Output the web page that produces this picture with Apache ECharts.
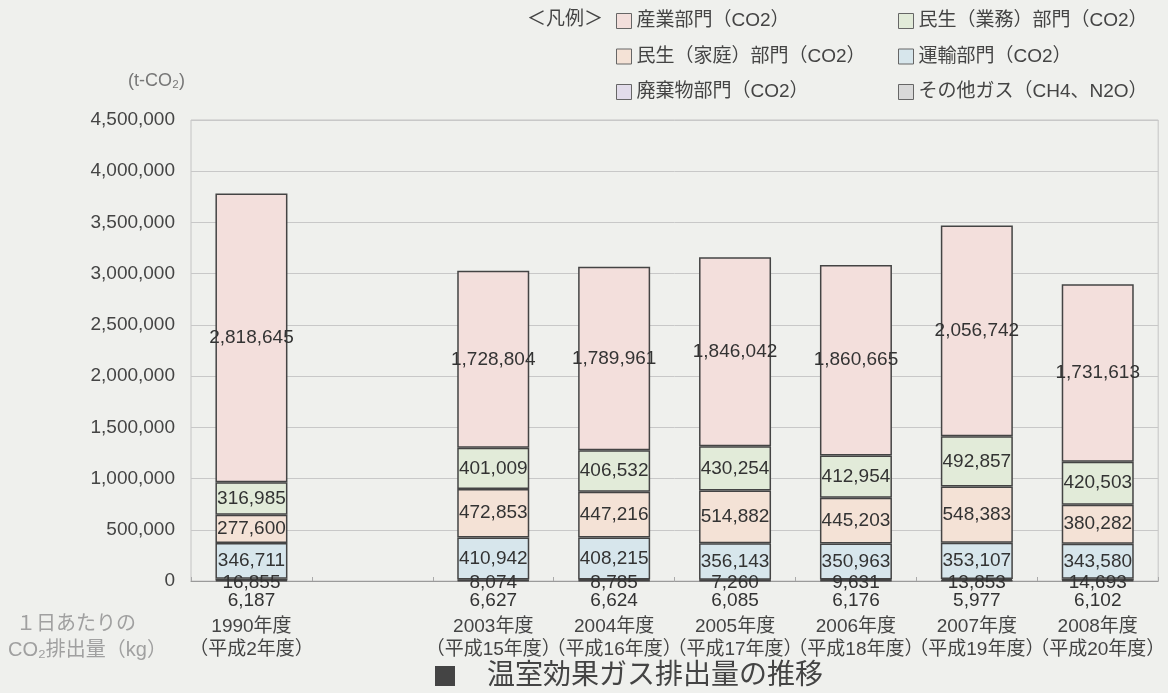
<!DOCTYPE html>
<html>
<head>
<meta charset="utf-8">
<script src="https://cdn.jsdelivr.net/npm/echarts@6/dist/echarts.min.js"></script>
<style>
html,body{margin:0;padding:0;background:#eff0ed;}
#main{width:1168px;height:693px;}
</style>
</head>
<body>
<div id="main"></div>
<script>
var years = ['1990年度', '', '2003年度', '2004年度', '2005年度', '2006年度', '2007年度', '2008年度']
var heisei = ['（平成2年度）', '', '（平成15年度）', '（平成16年度）', '（平成17年度）', '（平成18年度）', '（平成19年度）', '（平成20年度）']

var industry = [2818645, null, 1728804, 1789961, 1846042, 1860665, 2056742, 1731613]
var business = [316985, null, 401009, 406532, 430254, 412954, 492857, 420503]
var household = [277600, null, 472853, 447216, 514882, 445203, 548383, 380282]
var transport = [346711, null, 410942, 408215, 356143, 350963, 353107, 343580]
var waste = [16855, null, 8074, 8785, 7260, 9631, 13853, 14693]
var otherGas = [6187, null, 6627, 6624, 6085, 6176, 5977, 6102]
var totals = [3782982, null, 3028310, 3067333, 3160666, 3085590, 3470918, 2896772]

var yTicks = [0, 500000, 1000000, 1500000, 2000000, 2500000, 3000000, 3500000, 4000000, 4500000]

var FONT = '"Liberation Sans", "Noto Sans CJK JP", sans-serif'

function fmt(v) {
	return Number(v).toLocaleString('en-US')
}

function seg(name, data, color, label) {
	return {
		name: name,
		type: 'bar',
		stack: 'co2',
		barWidth: 72,
		data: data,
		itemStyle: {
			color: color,
			borderColor: '#444',
			borderWidth: 1.5
		},
		label: label || {
			show: true,
			position: 'inside',
			color: '#333',
			fontSize: 19,
			fontFamily: FONT,
			formatter: function (p) { return fmt(p.value) }
		}
	}
}

function renderChart() {
	var myChart = echarts.init(document.getElementById('main'))
	var legendText = {color: '#444', fontSize: 19, fontFamily: FONT, lineHeight: 20}
	var legendItem = {borderColor: '#666', borderWidth: 1}
	var option = {
		backgroundColor: '#eff0ed',
		animation: false,
		legend: [
			{
				orient: 'vertical',
				left: 616,
				top: 11,
				padding: 0,
				icon: 'rect',
				itemWidth: 15,
				itemHeight: 15,
				itemGap: 15.5,
				itemStyle: legendItem,
				textStyle: legendText,
				data: ['産業部門（CO2）', '民生（家庭）部門（CO2）', '廃棄物部門（CO2）']
			},
			{
				orient: 'vertical',
				left: 898,
				top: 11,
				padding: 0,
				icon: 'rect',
				itemWidth: 15,
				itemHeight: 15,
				itemGap: 15.5,
				itemStyle: legendItem,
				textStyle: legendText,
				data: ['民生（業務）部門（CO2）', '運輸部門（CO2）', 'その他ガス（CH4、N2O）']
			}
		],
		grid: {
			left: 191,
			right: 5,
			top: 120,
			bottom: 112,
			show: true,
			borderColor: '#c4c4c4',
			borderWidth: 1
		},
		xAxis: {
			type: 'category',
			data: years,
			axisLine: {lineStyle: {color: '#9a9a9a'}},
			axisTick: {show: true, inside: true, length: 4, lineStyle: {color: '#aaa'}},
			axisLabel: {
				margin: 34,
				color: '#444',
				fontSize: 19,
				lineHeight: 23,
				fontFamily: FONT,
				interval: 0,
				formatter: function (v, i) {
					return v ? v + '\n' + heisei[i] : ''
				}
			}
		},
		yAxis: {
			type: 'value',
			min: yTicks[0],
			max: yTicks[yTicks.length - 1],
			interval: 500000,
			axisLine: {show: false},
			axisTick: {show: false},
			splitLine: {lineStyle: {color: '#c8c8c8'}},
			axisLabel: {
				margin: 16,
				color: '#444',
				fontSize: 19,
				fontFamily: FONT,
				formatter: function (v) { return fmt(v) }
			}
		},
		series: [
			seg('その他ガス（CH4、N2O）', otherGas, '#d9d9d9', {
				show: true,
				position: 'bottom',
				distance: 10,
				color: '#333',
				fontSize: 19,
				fontFamily: FONT,
				formatter: function (p) { return fmt(p.value) }
			}),
			seg('廃棄物部門（CO2）', waste, '#e2dcea', {
				show: true,
				position: 'inside',
				offset: [0, 3],
				color: '#333',
				fontSize: 19,
				fontFamily: FONT,
				formatter: function (p) { return fmt(p.value) }
			}),
			seg('運輸部門（CO2）', transport, '#d7e6ec'),
			seg('民生（家庭）部門（CO2）', household, '#f4e2d6'),
			seg('民生（業務）部門（CO2）', business, '#e2ebd9'),
			seg('産業部門（CO2）', industry, '#f3dfdc'),
			{
				name: '合計',
				type: 'line',
				data: totals,
				symbol: 'none',
				lineStyle: {opacity: 0},
				z: 10,
				label: {
					show: true,
					position: 'top',
					distance: 7,
					color: '#333',
					fontSize: 19,
					fontFamily: FONT,
					formatter: function (p) { return fmt(p.value) }
				}
			}
		],
		graphic: [
			{type: 'text', left: 527, top: 10, style: {text: '＜凡例＞', fill: '#444', font: '19px ' + FONT}},
			{type: 'text', left: 128, top: 72, style: {text: '(t-CO₂)', fill: '#777', font: '18px ' + FONT}},
			{type: 'text', left: 16, top: 614, style: {text: '１日あたりの', fill: '#a0a0a0', font: '20px ' + FONT}},
			{type: 'text', left: 8, top: 640, style: {text: 'CO₂排出量（kg）', fill: '#a0a0a0', font: '20px ' + FONT}},
			{type: 'rect', shape: {x: 435, y: 666, width: 20, height: 20}, style: {fill: '#444'}},
			{type: 'text', left: 487, top: 662, style: {text: '温室効果ガス排出量の推移', fill: '#444', font: '28px ' + FONT}}
		]
	}
	myChart.setOption(option)
}

renderChart()
</script>
</body>
</html>
